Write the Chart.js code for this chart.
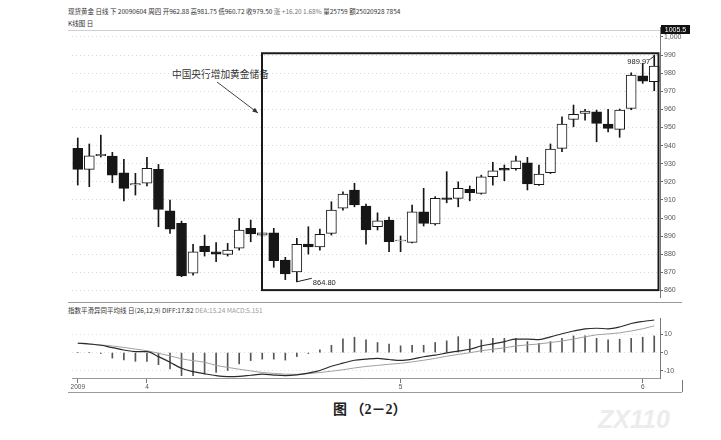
<!DOCTYPE html>
<html><head><meta charset="utf-8">
<script src="https://cdn.jsdelivr.net/npm/chart.js@4.4.1/dist/chart.umd.min.js"></script>
<style>
html,body{margin:0;padding:0;background:#fff;}
body{width:721px;height:440px;position:relative;overflow:hidden;font-family:"Noto Sans CJK SC","Noto Sans",sans-serif;}
.wrap{position:absolute;left:0;width:721px;}
.t{position:absolute;white-space:nowrap;line-height:1;}
.hl{position:absolute;height:0;border-top:1px solid #9a9a9a;}
.vl{position:absolute;width:0;border-left:1px solid #777;}
</style></head><body>
<div class="t" style="left:68px;top:8px;font-size:6.5px;color:#333">现货黄金 日线 下 20090604 周四 开962.88 高981.75 低960.72 收979.50 <span style="color:#777">涨 +16.20 1.68%</span> 量25759 额25020928 7854</div>
<div class="t" style="left:68px;top:20px;font-size:6.5px;color:#333">K线图 日</div>
<div class="hl" style="left:68px;top:30px;width:592px;border-color:#cfcfcf"></div>
<div class="t" style="left:172px;top:70px;font-size:9.7px;color:#333">中国央行增加黄金储备</div>
<div class="hl" style="left:68px;top:302px;width:614px"></div>
<div class="t" style="left:68px;top:307px;font-size:6.5px;color:#333">指数平滑异同平均线 日(26,12,9) DIFF:17.82 <span style="color:#9a9a9a">DEA:15.24 MACD:5.151</span></div>
<div class="hl" style="left:68px;top:392px;width:614px"></div>
<div class="vl" style="left:682px;top:380px;height:12px"></div>
<div class="t" style="left:333px;top:403px;font-size:14px;font-weight:bold;color:#222;font-family:'Liberation Serif','Noto Sans CJK SC',serif">图 （2－2）</div>
<div class="t" style="left:598px;top:407px;font-size:25px;font-weight:bold;color:#ececec;font-family:'Liberation Sans',sans-serif;font-style:italic">ZX110</div>
<div class="wrap" style="top:0;height:305px"><canvas id="main"></canvas></div>
<div class="wrap" style="top:300px;height:95px"><canvas id="macd"></canvas></div>
<script>
// ---- data ----
const categories = ['03-24','03-25','03-26','03-27','03-30','03-31',
 '04-01','04-02','04-03','04-06','04-07','04-08','04-09','04-10','04-13','04-14','04-15','04-16','04-17','04-20','04-21','04-22','04-23','04-24','04-27','04-28','04-29','04-30',
 '05-01','05-04','05-05','05-06','05-07','05-08','05-11','05-12','05-13','05-14','05-15','05-18','05-19','05-20','05-21','05-22','05-25','05-26','05-27','05-28','05-29',
 '06-01','06-02'];
const opens  = [938.5,926.9,934.4,934.2,925.0,918.3,919.2,926.9,904.0,897.1,869.5,884.5,881.4,879.9,883.3,894.3,890.6,891.9,876.8,870.3,885.6,884.1,891.5,905.4,915.5,906.6,895.2,898.9,887.3,886.6,903.5,896.7,911.2,910.9,915.8,913.6,922.8,927.4,927.2,930.5,918.4,925.0,938.5,954.5,957.8,958.7,951.9,949.0,960.5,978.6,975.3];
const highs  = [944.2,940.9,945.8,936.3,932.4,924.7,933.5,929.6,909.9,898.3,885.5,890.6,886.4,886.0,899.8,898.9,894.5,894.3,878.3,888.8,895.2,893.9,909.0,914.5,919.2,907.7,902.9,900.5,890.1,907.2,916.4,911.8,925.6,920.0,917.7,923.7,930.8,929.3,934.2,933.5,929.3,940.9,955.9,962.4,960.0,959.6,960.0,960.2,980.2,985.4,989.97];
const lows   = [918.2,917.3,933.7,919.5,909.4,912.7,917.7,895.2,891.5,867.6,868.5,879.0,875.9,879.0,882.3,886.9,889.5,872.8,866.0,864.8,880.1,882.3,890.6,904.4,906.2,885.6,893.4,881.4,881.4,886.2,895.6,896.1,908.4,906.2,909.5,913.2,918.2,920.6,926.5,915.5,918.0,924.6,936.6,950.4,954.1,942.1,947.6,944.6,959.8,974.4,970.3];
const closes = [926.9,934.4,935.2,923.7,916.4,919.0,927.4,904.8,893.8,868.1,881.4,881.4,880.1,882.3,893.4,891.2,891.9,876.4,869.1,885.5,884.1,891.0,904.4,913.2,907.2,893.4,898.5,886.9,887.9,903.5,897.1,910.9,910.3,916.4,914.0,922.8,926.1,926.5,931.6,918.8,924.3,938.1,951.9,957.3,959.1,952.3,949.5,959.6,979.0,975.6,983.9];
const diff = [5.1,4.7,4.0,2.7,1.4,0.5,0.5,-2.2,-5.3,-8.6,-10.4,-11.6,-12.6,-13.1,-13.0,-12.4,-11.8,-12.3,-12.6,-12.2,-11.2,-9.8,-7.5,-5.8,-4.2,-3.6,-3.2,-3.8,-4.3,-3.6,-2.3,-1.4,-0.2,0.8,1.8,3.6,4.8,6.0,7.4,7.4,7.1,8.6,10.3,11.8,13.0,13.3,13.0,14.0,15.9,17.0,17.8];
const dea  = [5.1,4.6,4.2,3.6,2.8,1.9,1.0,-0.4,-1.8,-3.4,-4.4,-5.3,-7.0,-8.1,-9.1,-10.0,-10.9,-11.4,-11.8,-11.9,-11.5,-10.9,-10.2,-9.4,-8.4,-7.6,-7.0,-6.4,-5.9,-5.1,-4.2,-3.2,-2.0,-1.0,-0.1,1.0,1.8,2.6,3.6,4.2,4.7,5.5,6.3,7.4,8.6,9.7,10.2,10.8,11.8,13.0,14.6];
const macdHist = [0,0,-0.5,-3,-4,-4.8,-4.8,-6.6,-8.9,-12.6,-12.6,-11.6,-10.8,-9.8,-6.2,-4.4,-3.6,-3.6,-4.1,-2.2,-0.5,1.5,4,7.5,8.4,7,5.5,4.6,3.7,4,4,5.5,6.4,8.7,7.3,6.9,7.8,7.8,7.8,6.0,5.1,6.0,7.8,9.1,9.1,7.8,6.9,7.3,7.8,8.4,9.1];
const priceTicks = [860,870,880,890,900,910,920,930,940,950,960,970,980,990,1000];
const macdTicks = [-10,0,10];
const monthTickIndex = [0,6,28,49];
const monthTickLabels = ['2009','4','5','6'];
const priceMin = 856.4, priceMax = 1005.5;
const boxFromIndex = 16, boxTop = 991, boxBottom = 860.2;

const INK = '#161616';
const isUp = closes.map((c,i)=>c>=opens[i]);

const annot = {
  id:'annot',
  afterDatasetsDraw(chart){
    const {ctx, chartArea:a, scales:{x,y}} = chart;
    ctx.save();
    // highlight box
    const bx = Math.round(x.getPixelForValue(boxFromIndex));
    const by1 = y.getPixelForValue(boxTop), by2 = y.getPixelForValue(boxBottom);
    ctx.strokeStyle = '#1a1a1a'; ctx.lineWidth = 2;
    ctx.strokeRect(bx, by1, a.right - 1.5 - bx, by2 - by1);
    // arrow from annotation text
    const ex = bx - 4, ey = y.getPixelForValue(958);
    const sx = 217, sy = 82;
    ctx.strokeStyle = '#444'; ctx.lineWidth = 1;
    ctx.beginPath(); ctx.moveTo(sx, sy); ctx.lineTo(ex, ey); ctx.stroke();
    const ang = Math.atan2(ey - sy, ex - sx);
    ctx.fillStyle = '#333';
    ctx.beginPath(); ctx.moveTo(ex, ey);
    ctx.lineTo(ex - 6*Math.cos(ang - 0.4), ey - 6*Math.sin(ang - 0.4));
    ctx.lineTo(ex - 6*Math.cos(ang + 0.4), ey - 6*Math.sin(ang + 0.4));
    ctx.closePath(); ctx.fill();
    // low label
    let iL = 0; lows.forEach((v,i)=>{ if (v < lows[iL]) iL = i; });
    const lx = x.getPixelForValue(iL), ly = y.getPixelForValue(lows[iL]);
    ctx.strokeStyle = '#222';
    ctx.beginPath(); ctx.moveTo(lx, ly); ctx.lineTo(lx + 15, ly - 3.5); ctx.stroke();
    ctx.font = '7.5px "Liberation Sans", sans-serif'; ctx.fillStyle = '#222';
    ctx.textAlign = 'left'; ctx.textBaseline = 'middle';
    ctx.fillText(lows[iL].toFixed(2), lx + 16, ly + 1.5);
    // high label
    let iH = 0; highs.forEach((v,i)=>{ if (v > highs[iH]) iH = i; });
    const hx = x.getPixelForValue(iH), hy = y.getPixelForValue(highs[iH]);
    ctx.beginPath(); ctx.moveTo(hx - 4, hy + 4); ctx.lineTo(hx, hy + 1); ctx.stroke();
    ctx.textAlign = 'right';
    ctx.fillText(highs[iH].toFixed(2), hx - 4, hy + 6.5);
    // axis max marker
    ctx.fillStyle = '#111';
    ctx.fillRect(a.right + 1, a.top - 2, 29, 9);
    ctx.fillStyle = '#fff'; ctx.textAlign = 'center';
    ctx.font = '7px "Liberation Sans", sans-serif';
    ctx.fillText(y.max.toFixed(1), a.right + 15.5, a.top + 2.6);
    ctx.restore();
  }
};

new Chart(document.getElementById('main'), {
  type:'bar',
  data:{labels:categories, datasets:[
    {label:'body', data:categories.map((_,i)=>[opens[i],closes[i]]), backgroundColor:isUp.map(u=>u?'#ffffff':INK), borderColor:INK, borderWidth:1, borderSkipped:false, barThickness:10, grouped:false, order:1, minBarLength:1},
    {label:'wick', data:categories.map((_,i)=>[lows[i],highs[i]]), backgroundColor:INK, borderWidth:0, barThickness:1, grouped:false, order:2}
  ]},
  options:{
    responsive:true, maintainAspectRatio:false, animation:false,
    layout:{padding:{left:72, top:27, right:0, bottom:8}},
    plugins:{legend:{display:false}, tooltip:{enabled:false}},
    scales:{
      x:{display:false, offset:true},
      y:{position:'right', min:priceMin, max:priceMax,
         afterBuildTicks(s){ s.ticks = priceTicks.map(v=>({value:v})); },
         ticks:{color:'#555', font:{family:'Liberation Sans', size:7}, padding:1},
         grid:{color:'#d6d6d6', tickColor:'#666', tickLength:3, lineWidth:1},
         border:{display:true, color:'#777', dash:[1,3]},
         afterFit(s){ s.width = 61; }}
    }
  },
  plugins:[annot]
});

new Chart(document.getElementById('macd'), {
  type:'bar',
  data:{labels:categories, datasets:[
    {type:'line', label:'DIFF', data:diff, borderColor:'#2b2b2b', borderWidth:1.2, pointRadius:0, cubicInterpolationMode:'monotone', order:1},
    {type:'line', label:'DEA', data:dea, borderColor:'#a0a0a0', borderWidth:1, pointRadius:0, cubicInterpolationMode:'monotone', order:2},
    {type:'bar', label:'MACD', data:macdHist, backgroundColor:'#555', barThickness:1, order:3}
  ]},
  options:{
    responsive:true, maintainAspectRatio:false, animation:false,
    layout:{padding:{left:72, top:18, right:0, bottom:3}},
    plugins:{legend:{display:false}, tooltip:{enabled:false}},
    scales:{
      x:{offset:true,
         grid:{offset:false, drawOnChartArea:false, tickLength:5, color:c=>monthTickIndex.includes(c.index)?'#777':'rgba(0,0,0,0)'},
         border:{display:true, color:'#999'},
         ticks:{autoSkip:false, maxRotation:0, color:'#555', font:{size:6.5, family:'Liberation Sans'}, padding:0,
                callback:(v,i)=>{ const k = monthTickIndex.indexOf(i); return k>=0 ? monthTickLabels[k] : ''; }},
         afterFit(s){ s.height = 14; }},
      y:{position:'right', min:-13.9, max:18.9,
         afterBuildTicks(s){ s.ticks = macdTicks.map(v=>({value:v})); },
         ticks:{color:'#555', font:{size:7, family:'Liberation Sans'}, padding:1},
         grid:{color:'#e0e0e0', tickColor:'#666', tickLength:3},
         border:{display:true, color:'#777', dash:[1,3]},
         afterFit(s){ s.width = 61; }}
    }
  }
});
</script>
</body></html>
